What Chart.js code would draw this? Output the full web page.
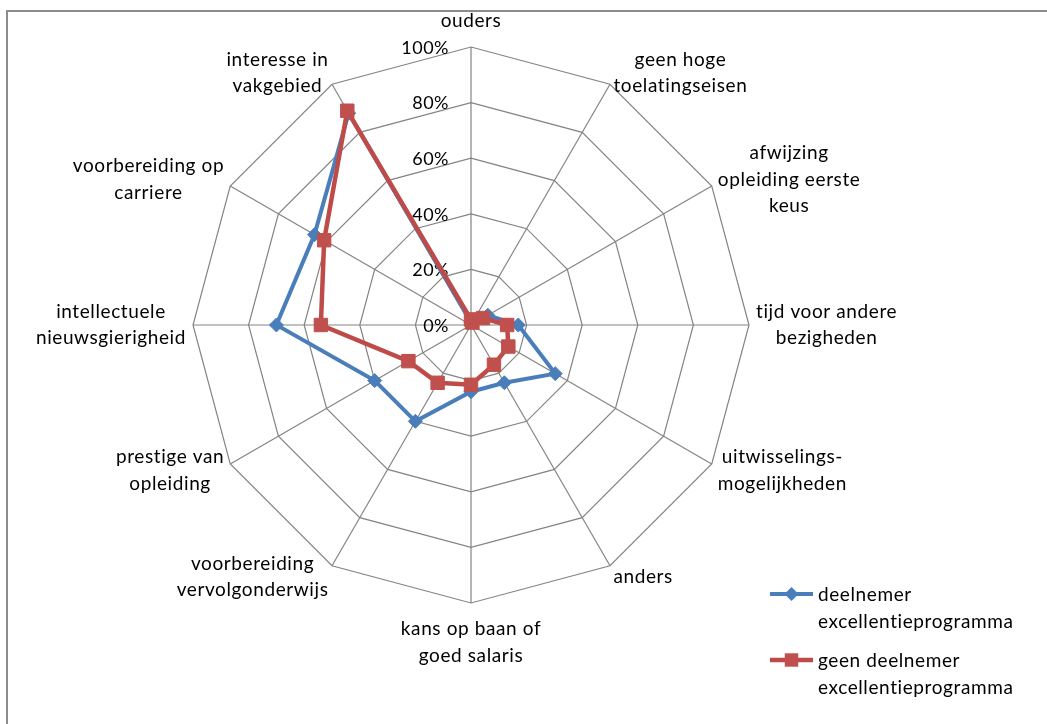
<!DOCTYPE html>
<html>
<head>
<meta charset="utf-8">
<script src="https://cdn.jsdelivr.net/npm/chart.js@4.4.0/dist/chart.umd.min.js"></script>
<style>
  html, body { margin: 0; padding: 0; background: #fff; }
  #wrap { position: relative; width: 1047px; height: 724px; overflow: hidden; }
  #frame { position: absolute; left: 6px; top: 10px; width: 1100px; height: 800px;
           border-left: 2px solid #8c8c8c; border-top: 2px solid #8c8c8c; }
  canvas { position: absolute; left: 0; top: 0; }
</style>
</head>
<body>
<div id="wrap">
  <div id="frame"></div>
  <canvas id="myChart" width="1047" height="724"></canvas>
</div>
<script>
'use strict';

// categories, clockwise from the top
let categories = [
  'ouders',
  ['geen hoge', 'toelatingseisen'],
  ['afwijzing', 'opleiding eerste', 'keus'],
  ['tijd voor andere', 'bezigheden'],
  ['uitwisselings-', 'mogelijkheden'],
  'anders',
  ['kans op baan of', 'goed salaris'],
  ['voorbereiding', 'vervolgonderwijs'],
  ['prestige van', 'opleiding'],
  ['intellectuele', 'nieuwsgierigheid'],
  ['voorbereiding op', 'carriere'],
  ['interesse in', 'vakgebied']
];

let deelnemer = [1, 2, 7, 17, 35, 24, 24, 40, 40, 70, 65, 88];
let geenDeelnemer = [2, 1, 5, 13, 15.5, 16.5, 21.5, 24, 26, 54, 61, 89];

let seriesNames = ['deelnemer excellentieprogramma', 'geen deelnemer excellentieprogramma'];

let tickMin = 0;
let tickMax = 100;
let tickStep = 20;

const FONT = '19px Lato';
const TICK_FONT = '18px Lato';
const LINE_H = 26.5;
const GRID = '#848484';

function wrapText(ctx, text, maxW) {
  let words = text.split(' ');
  let lines = [];
  let cur = '';
  for (let i = 0; i < words.length; i++) {
    let test = cur ? cur + ' ' + words[i] : words[i];
    if (cur && ctx.measureText(test).width > maxW) {
      lines.push(cur);
      cur = words[i];
    } else {
      cur = test;
    }
  }
  if (cur) lines.push(cur);
  return lines;
}

function drawMarker(ctx, style, r, x, y, color) {
  ctx.fillStyle = color;
  ctx.beginPath();
  if (style === 'rectRot') {
    ctx.moveTo(x, y - r);
    ctx.lineTo(x + r, y);
    ctx.lineTo(x, y + r);
    ctx.lineTo(x - r, y);
    ctx.closePath();
  } else {
    let s = r * Math.SQRT1_2;
    ctx.rect(x - s, y - s, 2 * s, 2 * s);
  }
  ctx.fill();
}

let excelLabels = {
  id: 'excelLabels',
  beforeDatasetsDraw(chart) {
    // percentage labels next to the vertical axis
    let s = chart.scales.r;
    let ctx = chart.ctx;
    ctx.save();
    ctx.font = TICK_FONT;
    ctx.letterSpacing = '0.5px';
    ctx.fillStyle = '#000';
    ctx.textAlign = 'right';
    ctx.textBaseline = 'middle';
    s.ticks.forEach(function (t) {
      let y = s.yCenter - s.getDistanceFromCenterForValue(t.value);
      let txt = t.label !== undefined ? t.label : t.value + '%';
      ctx.fillText(txt, s.xCenter - 22, y + 1);
    });
    ctx.restore();
  },
  afterDraw(chart) {
    let s = chart.scales.r;
    let ctx = chart.ctx;
    ctx.save();
    ctx.font = FONT;
    ctx.letterSpacing = '0.6px';
    ctx.fillStyle = '#000';
    ctx.textAlign = 'center';
    ctx.textBaseline = 'middle';

    // category labels round the web, centred lines like Excel does
    chart.data.labels.forEach(function (lab, i) {
      let lines = Array.isArray(lab) ? lab : [lab];
      let w = Math.max.apply(null, lines.map(l => ctx.measureText(l).width));
      let h = lines.length * LINE_H;
      let a = s.getIndexAngle(i);
      let sin = Math.sin(a), cos = Math.cos(a);
      let v = s.getPointPosition(i, s.drawingArea);
      let cx = v.x + sin * 7;
      let cy = v.y - cos * 13;
      if (Math.abs(sin) > 0.1) {
        cx += Math.sign(sin) * w / 2;
      } else {
        cy -= cos * h / 2;
      }
      let y0 = cy - h / 2 + LINE_H / 2;
      lines.forEach(function (l, j) {
        ctx.fillText(l, cx, y0 + j * LINE_H);
      });
    });

    // legend at the bottom right
    ctx.textAlign = 'left';
    chart.data.datasets.forEach(function (ds, i) {
      let y = 594 + i * 66;
      ctx.strokeStyle = ds.borderColor;
      ctx.lineWidth = ds.borderWidth;
      ctx.beginPath();
      ctx.moveTo(770, y);
      ctx.lineTo(813, y);
      ctx.stroke();
      drawMarker(ctx, ds.pointStyle, ds.pointRadius, 791.5, y, ds.pointBackgroundColor);
      ctx.fillStyle = '#000';
      let lines = wrapText(ctx, ds.label, 215);
      lines.forEach(function (l, j) {
        ctx.fillText(l, 818, y + 1 + j * LINE_H);
      });
    });
    ctx.restore();
  }
};

let ctx = document.getElementById('myChart').getContext('2d');
let myChart = new Chart(ctx, {
  type: 'radar',
  data: {
    labels: categories,
    datasets: [{
      label: seriesNames[0],
      data: deelnemer,
      borderColor: '#4A7EBB',
      backgroundColor: '#4A7EBB',
      borderWidth: 4,
      pointStyle: 'rectRot',
      pointRadius: 7,
      pointBackgroundColor: '#4A7EBB',
      pointBorderColor: '#4A7EBB',
      pointBorderWidth: 1,
      fill: false,
      order: 1
    }, {
      label: seriesNames[1],
      data: geenDeelnemer,
      borderColor: '#BE4B48',
      backgroundColor: '#C0504D',
      borderWidth: 4.5,
      pointStyle: 'rect',
      pointRadius: 9.5,
      pointBackgroundColor: '#C0504D',
      pointBorderColor: '#C0504D',
      pointBorderWidth: 1,
      fill: false,
      order: 0
    }]
  },
  options: {
    responsive: false,
    animation: false,
    layout: {
      padding: { left: 193, right: 298, top: 47, bottom: 121 }
    },
    plugins: {
      legend: { display: false },
      tooltip: { enabled: false }
    },
    elements: {
      line: { tension: 0 }
    },
    scales: {
      r: {
        min: tickMin,
        max: tickMax,
        beginAtZero: true,
        ticks: {
          stepSize: tickStep,
          display: false,
          callback: function (v) { return v + '%'; }
        },
        pointLabels: { display: false },
        grid: { color: GRID, lineWidth: 1.2 },
        angleLines: { color: GRID, lineWidth: 1.2 }
      }
    }
  },
  plugins: [excelLabels]
});
</script>
</body>
</html>
